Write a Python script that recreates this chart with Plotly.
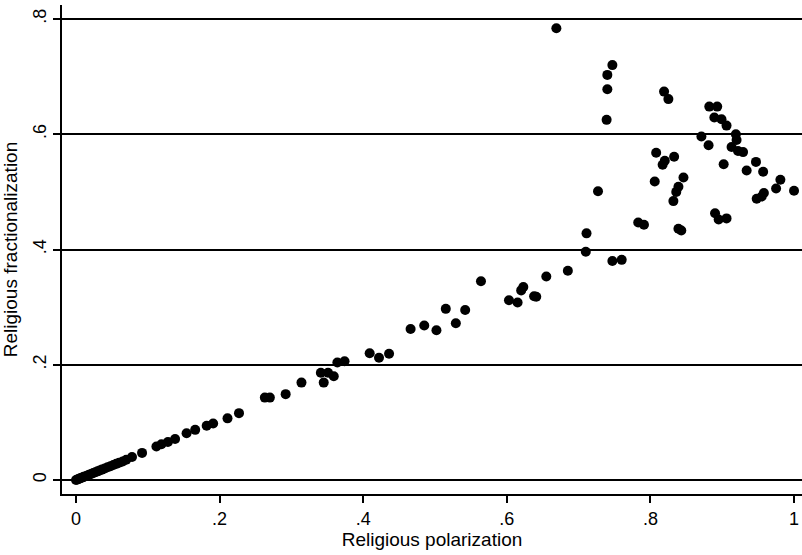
import plotly.graph_objects as go

# Religious polarization (x) and religious fractionalization (y)
polarization = [
    0.000, 0.002, 0.004, 0.006, 0.008, 0.010, 0.012, 0.015, 0.018, 0.021,
    0.024, 0.027, 0.030, 0.033, 0.036, 0.040, 0.044, 0.048, 0.052, 0.056,
    0.060, 0.065, 0.070, 0.078, 0.092, 0.112, 0.119, 0.128, 0.138, 0.154,
    0.166, 0.182, 0.191, 0.211, 0.227, 0.263, 0.270, 0.292, 0.314, 0.341,
    0.345, 0.351, 0.359, 0.364, 0.374, 0.409, 0.422, 0.436, 0.466, 0.485,
    0.502, 0.515, 0.529, 0.542, 0.564, 0.603, 0.615, 0.620, 0.623, 0.638,
    0.641, 0.655, 0.685, 0.710, 0.711, 0.727, 0.747, 0.760, 0.669, 0.747,
    0.740, 0.740, 0.739, 0.783, 0.791,
    0.819, 0.825, 0.882, 0.893, 0.889, 0.899, 0.906, 0.919, 0.920, 0.871,
    0.881, 0.913, 0.922, 0.929, 0.808, 0.820, 0.817, 0.833, 0.902, 0.947,
    0.934, 0.957, 0.806, 0.846, 0.839, 0.836, 0.832, 0.981, 0.975, 1.000,
    0.958, 0.955, 0.948, 0.890, 0.895, 0.906, 0.839, 0.843,
]
fractionalization = [
    0.000, 0.001, 0.002, 0.003, 0.004, 0.005, 0.006, 0.0075, 0.009, 0.0105,
    0.012, 0.0135, 0.015, 0.0165, 0.018, 0.020, 0.022, 0.024, 0.026, 0.028,
    0.030, 0.032, 0.035, 0.040, 0.047, 0.058, 0.062, 0.066, 0.071, 0.081,
    0.087, 0.094, 0.098, 0.107, 0.116, 0.143, 0.143, 0.149, 0.169, 0.186,
    0.169, 0.186, 0.180, 0.204, 0.206, 0.220, 0.212, 0.219, 0.262, 0.268,
    0.260, 0.297, 0.272, 0.295, 0.345, 0.312, 0.308, 0.329, 0.335, 0.319,
    0.318, 0.353, 0.363, 0.396, 0.428, 0.501, 0.380, 0.382, 0.784, 0.720,
    0.703, 0.678, 0.625, 0.447, 0.443,
    0.674, 0.661, 0.648, 0.648, 0.629, 0.626, 0.615, 0.600, 0.590, 0.596,
    0.581, 0.578, 0.571, 0.569, 0.568, 0.554, 0.547, 0.561, 0.548, 0.552,
    0.537, 0.535, 0.518, 0.525, 0.509, 0.500, 0.484, 0.521, 0.506, 0.502,
    0.498, 0.492, 0.488, 0.463, 0.452, 0.454, 0.436, 0.433,
]

x_tickvals = [0, 0.2, 0.4, 0.6, 0.8, 1]
x_ticktext = ["0", ".2", ".4", ".6", ".8", "1"]
y_tickvals = [0, 0.2, 0.4, 0.6, 0.8]
y_ticktext = ["0", ".2", ".4", ".6", ".8"]

FONT = "Liberation Sans, Arial, sans-serif"

fig = go.Figure(
    go.Scatter(
        x=polarization,
        y=fractionalization,
        mode="markers",
        marker=dict(color="black", size=10, line=dict(width=0)),
        hoverinfo="x+y",
    )
)

fig.update_layout(
    width=802,
    height=555,
    margin=dict(l=62, r=0, t=5, b=61),
    paper_bgcolor="white",
    plot_bgcolor="white",
    showlegend=False,
    font=dict(family=FONT, color="black"),
)

fig.update_xaxes(
    range=[-0.0195, 1.0111],
    tickvals=x_tickvals,
    ticktext=x_ticktext,
    showgrid=False,
    zeroline=False,
    showline=True,
    linecolor="black",
    linewidth=2,
    ticks="outside",
    ticklen=7,
    tickwidth=1.5,
    tickcolor="black",
    tickfont=dict(size=18, family=FONT),
    title=dict(text="Religious polarization", font=dict(size=19, family=FONT), standoff=0),
)

fig.update_yaxes(
    range=[-0.0243, 0.8243],
    tickvals=y_tickvals,
    ticktext=y_ticktext,
    showgrid=True,
    gridcolor="black",
    gridwidth=2,
    zeroline=False,
    showline=True,
    linecolor="black",
    linewidth=2,
    ticks="outside",
    ticklen=7,
    tickwidth=1.5,
    tickcolor="black",
    tickangle=-90,
    tickfont=dict(size=18, family=FONT),
    title=dict(text="Religious fractionalization", font=dict(size=19, family=FONT), standoff=8),
)

fig.write_html("out.html")
